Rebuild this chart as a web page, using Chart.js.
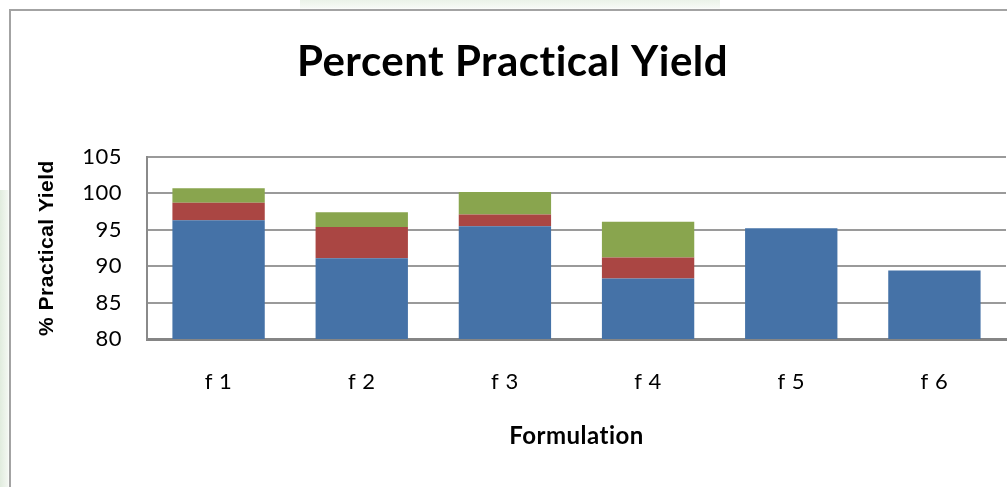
<!DOCTYPE html>
<html>
<head>
<meta charset="utf-8">
<script src="https://cdn.jsdelivr.net/npm/chart.js@4/dist/chart.umd.min.js"></script>
<style>
  html, body { margin: 0; padding: 0; background: #ffffff; }
  #wrap {
    position: relative; width: 1007px; height: 487px; overflow: hidden;
    background:
      linear-gradient(to right, rgba(200,220,195,0.55) 0px, rgba(220,232,215,0.35) 8px, rgba(255,255,255,0) 9px) 0 190px / 9px 297px no-repeat,
      linear-gradient(to bottom, rgba(215,230,210,0.5) 0px, rgba(235,242,232,0.4) 8px, rgba(255,255,255,0) 9px) 300px 0 / 420px 9px no-repeat,
      #ffffff;
  }
  #frame {
    position: absolute; left: 9px; top: 9px; right: -4px; bottom: -4px;
    border: 2px solid #a3a3a3; background: #ffffff; box-sizing: border-box;
  }
  #c { position: absolute; left: 0; top: 0; }
</style>
</head>
<body>
<div id="wrap">
  <div id="frame"></div>
  <canvas id="c" width="1007" height="487"></canvas>
</div>
<script>
// Formulations and their stacked yield components (%)
const categories = ['f 1', 'f 2', 'f 3', 'f 4', 'f 5', 'f 6'];
const yieldBase  = [96.3, 91.1, 95.5, 88.3, 95.2, 89.4];
const yieldMid   = [2.4, 4.3, 1.6, 2.9, 0, 0];
const yieldTop   = [2.0, 2.0, 3.1, 4.9, 0, 0];
const yTicks     = [80, 85, 90, 95, 100, 105];

const plotLeft = 147, plotTop = 157, plotBottom = 339;
const titleSize = 42;

// Slight letter spacing for all chart text (also keeps "ti" from joining)
const spacedText = {
  id: 'spacedText',
  beforeDraw(chart) { chart.ctx.letterSpacing = '0.5px'; }
};

new Chart(document.getElementById('c'), {
  type: 'bar',
  data: {
    labels: categories,
    datasets: [
      { label: 'Series 1', data: yieldBase, backgroundColor: '#4572A7' },
      { label: 'Series 2', data: yieldMid,  backgroundColor: '#AA4643' },
      { label: 'Series 3', data: yieldTop,  backgroundColor: '#89A54E' }
    ]
  },
  plugins: [spacedText],
  options: {
    responsive: false,
    animation: false,
    layout: { padding: { left: 19, right: 1, top: 0, bottom: 0 } },
    datasets: { bar: { barPercentage: 0.645, categoryPercentage: 1.0 } },
    plugins: {
      legend: { display: false },
      tooltip: { enabled: false },
      title: {
        display: true,
        text: 'Percent Practical Yield',
        color: '#000000',
        font: { family: 'Lato', size: titleSize, weight: 'bold', lineHeight: 1.2 },
        padding: { top: 37, bottom: plotTop - 37 - titleSize * 1.2 }
      }
    },
    scales: {
      x: {
        stacked: true,
        z: 1,
        grid: { display: false, drawTicks: false },
        border: { display: true, color: '#858585', width: 3 },
        ticks: { color: '#000000', padding: 30, font: { family: 'Lato', size: 22 } },
        title: {
          display: true,
          text: 'Formulation',
          color: '#000000',
          font: { family: 'Lato', size: 24, weight: 'bold', lineHeight: 1.2 },
          padding: { top: 0, bottom: 36 }
        },
        afterFit: (scale) => { scale.height = 487 - plotBottom; }
      },
      y: {
        stacked: true,
        min: 80,
        max: 105,
        afterBuildTicks: (scale) => { scale.ticks = yTicks.map(v => ({ value: v })); },
        grid: { color: '#9a9a9a', lineWidth: 2, drawTicks: false },
        border: { display: true, color: '#8a8a8a', width: 2 },
        ticks: { color: '#000000', padding: 25, font: { family: 'Lato', size: 22 } },
        title: {
          display: true,
          text: '% Practical Yield',
          color: '#000000',
          font: { family: 'Liberation Sans', size: 21, weight: 'bold', lineHeight: 1.2 },
          padding: { top: 16, bottom: 0 }
        },
        afterFit: (scale) => { scale.width = plotLeft - 19; }
      }
    }
  }
});
</script>
</body>
</html>
